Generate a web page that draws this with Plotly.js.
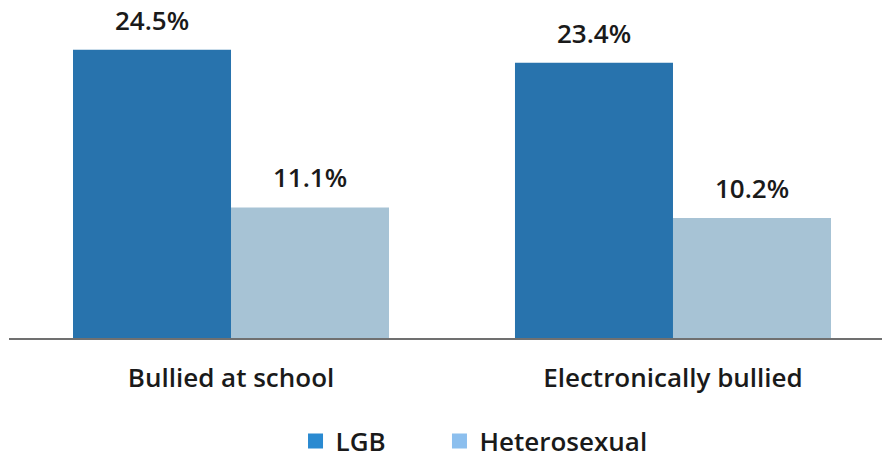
<!DOCTYPE html>
<html>
<head>
<meta charset="utf-8">
<script src="https://cdn.plot.ly/plotly-3.0.1.min.js"></script>
<style>html,body{margin:0;padding:0;background:#fff;}#chart{width:882px;height:456px;}</style>
</head>
<body>
<div id="chart"></div>
<script>
const categories = ["Bullied at school", "Electronically bullied"];
const lgbValues = [24.5, 23.4];
const heteroValues = [11.1, 10.2];
const seriesNames = ["LGB", "Heterosexual"];

const barColors = ["#2873ad", "#a7c3d5"];
const legendColors = ["#2a8ad1", "#8cbfee"];
const font = "'Open Sans', sans-serif";

const traces = [
  {type: "bar", x: categories, y: lgbValues, name: seriesNames[0], marker: {color: barColors[0]}, showlegend: false, hoverinfo: "none"},
  {type: "bar", x: categories, y: heteroValues, name: seriesNames[1], marker: {color: barColors[1]}, showlegend: false, hoverinfo: "none"},
  {type: "scatter", mode: "markers", x: [null], y: [null], name: seriesNames[0], legend: "legend", marker: {symbol: "square", size: 15, color: legendColors[0]}},
  {type: "scatter", mode: "markers", x: [null], y: [null], name: seriesNames[1], legend: "legend2", marker: {symbol: "square", size: 15, color: legendColors[1]}}
];

const annotations = [];
[lgbValues, heteroValues].forEach((vals, s) => {
  vals.forEach((v, i) => {
    annotations.push({
      x: i + (s === 0 ? -0.179 : 0.179), y: v, xref: "x", yref: "y",
      text: v.toFixed(1) + "%", showarrow: false, yanchor: "bottom", yshift: 10,
      font: {family: font, size: 26, color: "#1a1a1a", weight: 600}
    });
  });
});

const legendBase = {
  orientation: "h", yanchor: "middle", y: -0.3047, xanchor: "left",
  font: {family: font, size: 26, color: "#1a1a1a", weight: 600},
  itemwidth: 30, tracegroupgap: 0, bgcolor: "rgba(0,0,0,0)"
};

const layout = {
  width: 882, height: 456,
  margin: {l: 9, r: 0, t: 0, b: 118, autoexpand: false},
  paper_bgcolor: "#fff", plot_bgcolor: "#fff",
  barmode: "group", bargap: 0.285, bargroupgap: 0,
  xaxis: {
    type: "category", range: [-0.5023, 1.4729], automargin: false,
    showline: true, linecolor: "#707070", linewidth: 2,
    showgrid: false, zeroline: false, ticks: "",
    ticklabelstandoff: 16,
    tickfont: {family: font, size: 26, color: "#1a1a1a", weight: 600}
  },
  yaxis: {range: [0, 28.74], visible: false, showgrid: false, zeroline: false, automargin: false},
  showlegend: true,
  legend: Object.assign({}, legendBase, {x: 0.3282}),
  legend2: Object.assign({}, legendBase, {x: 0.4931}),
  annotations: annotations
};

Plotly.newPlot("chart", traces, layout, {staticPlot: true, displayModeBar: false});
</script>
</body>
</html>
